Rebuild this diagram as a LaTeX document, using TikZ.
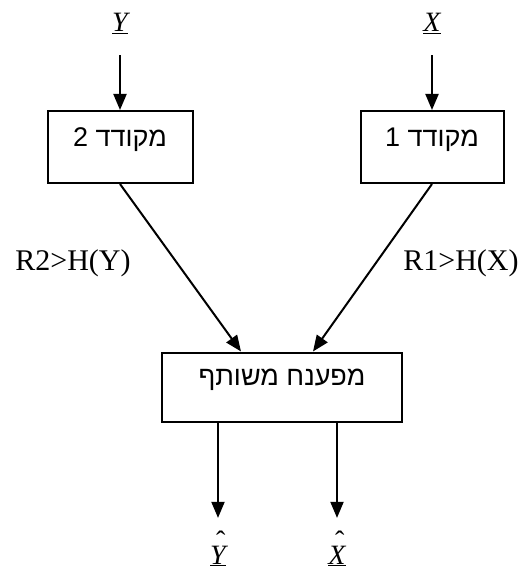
\documentclass[tikz,border=0pt]{standalone}
\usepackage{fontspec}
\setmainfont{Liberation Serif}
\newfontfamily\hebfont[Script=Hebrew]{Liberation Sans}
\TeXXeTstate=1
\usetikzlibrary{arrows.meta}

% underlined italic letter with a circumflex set well above it
\newcommand{\hatvar}[1]{\ooalign{\hfil\hspace{0.2em}\raisebox{0.48em}{\upshape ˆ}\hfil\cr\underline{\textit{#1}}\cr}}

\begin{document}
\begin{tikzpicture}[x=1pt,y=-1pt,
  box/.style={draw, line width=2pt, inner sep=0pt},
  flow/.style={line width=2pt, -{Triangle[length=16pt,width=13pt]}},
  heb/.style={inner sep=0pt, font=\hebfont\fontsize{27}{31}\selectfont},
  rate/.style={inner sep=0pt, font=\fontsize{30}{34}\selectfont},
  var/.style={inner sep=0pt, anchor=base, font=\fontsize{28}{32}\selectfont\itshape}]
  \useasboundingbox (0,0) rectangle (529,577);

  % encoders and joint decoder
  \node[box, minimum width=145pt, minimum height=72pt] (enc2) at (120,147) {};
  \node[box, minimum width=143pt, minimum height=72pt] (enc1) at (432,147) {};
  \node[box, minimum width=240pt, minimum height=69pt] (dec) at (282,387) {};
  \node[heb] (enc2t) at ([yshift=7pt]enc2.center) {\beginR מקודד 2\endR};
  \node[heb] (enc1t) at ([yshift=7pt]enc1.center) {\beginR מקודד 1\endR};
  \node[heb] (dect) at ([yshift=7pt]dec.center) {\beginR מפענח משותף\endR};

  % sources
  \node[var] (yin) at (120,32) {\underline{Y}};
  \node[var] (xin) at (432,32) {\underline{X}};
  \draw[flow, shorten <=21pt] (yin.south) -- (enc2.north);
  \draw[flow, shorten <=21pt] (xin.south) -- (enc1.north);

  % coded streams to the decoder
  \draw[flow] (enc2.south) -- ([xshift=-41pt]dec.north);
  \draw[flow] (enc1.south) -- ([xshift=31pt]dec.north);
  \node[rate] (r2) at (73,263) {R2>H(Y)};
  \node[rate] (r1) at (461,263) {R1>H(X)};

  % reconstructions
  \node[var] (yhat) at (218,564) {\hatvar{Y}};
  \node[var] (xhat) at (337,564) {\hatvar{X}};
  \draw[flow, shorten >=13pt] (dec.south -| yhat) -- (yhat.north);
  \draw[flow, shorten >=13pt] (dec.south -| xhat) -- (xhat.north);
\end{tikzpicture}
\end{document}
